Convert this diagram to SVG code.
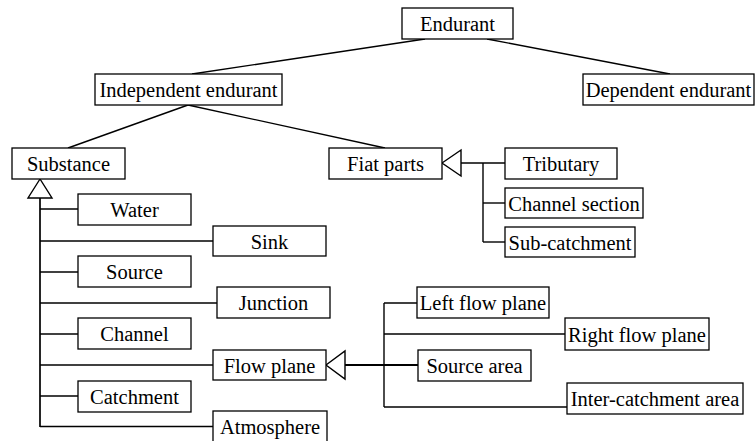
<svg xmlns="http://www.w3.org/2000/svg" width="755" height="441" viewBox="0 0 755 441">
<style>
.b{fill:#fff;stroke:#000;stroke-width:1.3}
.c line{stroke:#000;stroke-width:1.4;fill:none}
.c polygon{fill:#fff;stroke:#000;stroke-width:1.4}
</style>
<rect width="755" height="441" fill="#fff"/>
<g class="c" id="connectors">
<line x1="425" y1="39" x2="192" y2="74"/>
<line x1="487" y1="39" x2="670" y2="74"/>
<line x1="188" y1="105" x2="68" y2="148"/>
<line x1="188" y1="105" x2="385" y2="148"/>
<line x1="40" y1="198" x2="40" y2="427" style="stroke-width:1.7"/>
<line x1="40" y1="209" x2="78" y2="209"/>
<line x1="40" y1="241" x2="213" y2="241"/>
<line x1="40" y1="272" x2="78" y2="272"/>
<line x1="40" y1="303" x2="217" y2="303"/>
<line x1="40" y1="334" x2="78" y2="334"/>
<line x1="40" y1="365" x2="213" y2="365"/>
<line x1="40" y1="396" x2="78" y2="396"/>
<line x1="40" y1="426.5" x2="213" y2="426.5"/>
<polygon points="40,179 28,198 52,198"/>
<line x1="461" y1="163" x2="505" y2="163"/>
<line x1="483" y1="163" x2="483" y2="242"/>
<line x1="483" y1="203" x2="505" y2="203"/>
<line x1="483" y1="242" x2="505" y2="242"/>
<polygon points="442,163 461,150 461,176"/>
<line x1="345" y1="365" x2="418" y2="365" style="stroke-width:1.8"/>
<line x1="384" y1="303" x2="384" y2="407"/>
<line x1="384" y1="303" x2="417" y2="303"/>
<line x1="384" y1="334" x2="565" y2="334"/>
<line x1="384" y1="407" x2="567" y2="407"/>
<polygon points="326,365 345,351 345,379"/>
</g>
<g id="nodes" font-family="Liberation Serif, DejaVu Serif, serif" font-size="20.5" text-anchor="middle" fill="#000">
<g id="endurant"><rect class="b" x="402" y="8" width="111" height="31"/><text x="457.5" y="31">Endurant</text></g>
<g id="independent"><rect class="b" x="95" y="74" width="187" height="31"/><text x="188.5" y="97">Independent endurant</text></g>
<g id="dependent"><rect class="b" x="583" y="74" width="171" height="31"/><text x="668.5" y="97">Dependent endurant</text></g>
<g id="substance"><rect class="b" x="12" y="148" width="113" height="31"/><text x="68.5" y="171">Substance</text></g>
<g id="fiat"><rect class="b" x="329" y="148" width="113" height="31"/><text x="385.5" y="171">Fiat parts</text></g>
<g id="tributary"><rect class="b" x="505" y="148" width="112" height="31"/><text x="561" y="171">Tributary</text></g>
<g id="channelsection"><rect class="b" x="505" y="188" width="138" height="30"/><text x="574" y="210.5">Channel section</text></g>
<g id="subcatchment"><rect class="b" x="505" y="227" width="130" height="30"/><text x="570" y="249.5">Sub-catchment</text></g>
<g id="water"><rect class="b" x="78" y="194" width="113" height="31"/><text x="134.5" y="217">Water</text></g>
<g id="sink"><rect class="b" x="213" y="226" width="113" height="30"/><text x="269.5" y="248.5">Sink</text></g>
<g id="source"><rect class="b" x="78" y="256" width="113" height="31"/><text x="134.5" y="279">Source</text></g>
<g id="junction"><rect class="b" x="217" y="287" width="113" height="31"/><text x="273.5" y="310">Junction</text></g>
<g id="channel"><rect class="b" x="78" y="318" width="113" height="31"/><text x="134.5" y="341">Channel</text></g>
<g id="flowplane"><rect class="b" x="213" y="350" width="113" height="30"/><text x="269.5" y="372.5">Flow plane</text></g>
<g id="catchment"><rect class="b" x="78" y="381" width="113" height="31"/><text x="134.5" y="404">Catchment</text></g>
<g id="atmosphere"><rect class="b" x="213" y="411" width="114" height="31"/><text x="270" y="434">Atmosphere</text></g>
<g id="leftflow"><rect class="b" x="417" y="287" width="132" height="31"/><text x="483" y="310">Left flow plane</text></g>
<g id="rightflow"><rect class="b" x="565" y="318" width="144" height="32"/><text x="637" y="341.5">Right flow plane</text></g>
<g id="sourcearea"><rect class="b" x="418" y="350" width="113" height="31"/><text x="474.5" y="373">Source area</text></g>
<g id="intercatchment"><rect class="b" x="567" y="383" width="176" height="31"/><text x="655" y="406">Inter-catchment area</text></g>
</g>
</svg>
